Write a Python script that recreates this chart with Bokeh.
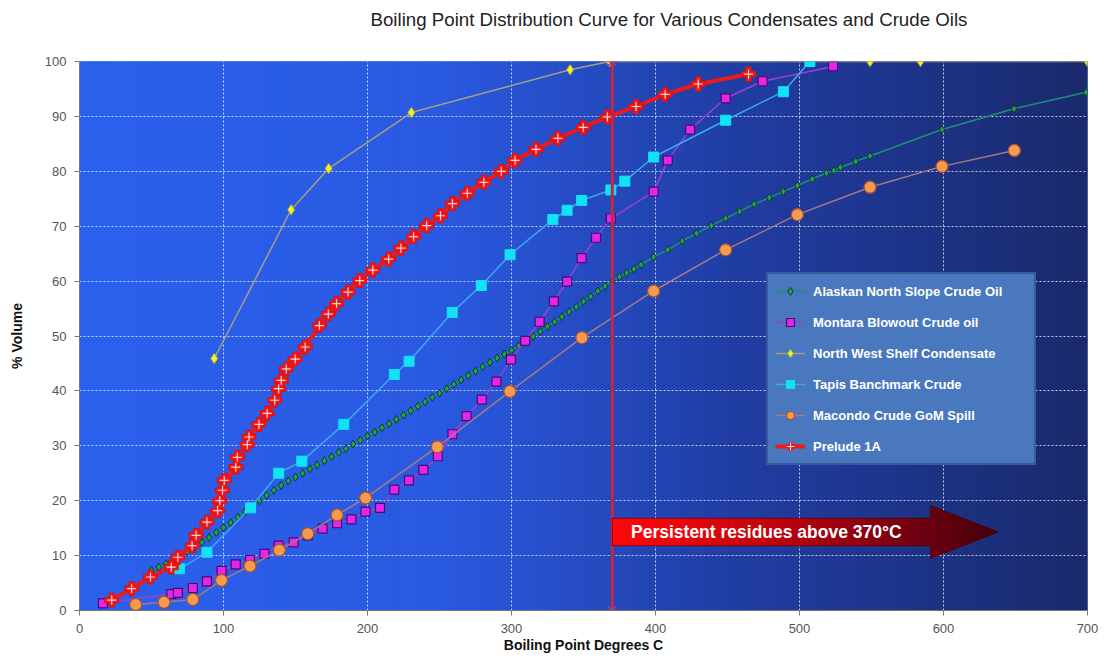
import numpy as np
from bokeh.plotting import figure
from bokeh.models import Range1d, FixedTicker, Legend, LegendItem, Label, Title
from bokeh.embed import file_html
from bokeh.resources import INLINE

TITLE = "Boiling Point Distribution Curve for Various Condensates and Crude Oils"
X_LABEL = "Boiling Point Degrees C"
Y_LABEL = "% Volume"
X_TICKS = [0, 100, 200, 300, 400, 500, 600, 700]
Y_TICKS = [0, 10, 20, 30, 40, 50, 60, 70, 80, 90, 100]

# Alaskan North Slope Crude Oil
ans_x = [50, 55, 60, 65, 70, 75, 80, 85, 90, 95, 100, 105, 110, 115, 120, 125, 130, 135, 140, 145,
         150, 155, 160, 165, 170, 175, 180, 185, 190, 195, 200, 205, 210, 215, 220, 225, 230, 235, 240, 245,
         250, 255, 260, 265, 270, 275, 280, 285, 290, 295, 300, 305, 310, 315, 320, 325, 330, 335, 340, 345,
         350, 355, 360, 365, 370, 375, 380, 385, 390,
         398.7, 408.5, 418.6, 428.5, 438.8, 448.7, 458.4, 468.5, 479, 488.8, 498.5, 508.8, 518.7, 523.8,
         528.4, 539.1, 549, 599, 649, 699]
ans_y = [7.3, 7.9, 8.5, 9.2, 10.0, 10.7, 11.5, 12.4, 13.3, 14.2, 15.1, 16.0, 17.0, 18.0, 19.0, 20.0, 21.0, 21.9, 22.8, 23.6,
         24.3, 25.0, 25.8, 26.5, 27.3, 28.0, 28.8, 29.5, 30.3, 31.0, 31.8, 32.5, 33.3, 34.0, 34.8, 35.6, 36.4, 37.2, 38.0, 38.8,
         39.6, 40.4, 41.2, 42.0, 42.8, 43.6, 44.4, 45.2, 46.0, 46.7, 47.4, 48.2, 49.0, 49.9, 50.8, 51.7, 52.6, 53.5, 54.4, 55.3,
         56.3, 57.2, 58.2, 59.1, 60.0, 60.8, 61.5, 62.2, 63.0,
         64.4, 65.7, 67.3, 68.7, 70.1, 71.4, 72.7, 74.0, 75.2, 76.3, 77.4, 78.6, 79.7, 80.1,
         80.7, 81.8, 82.8, 87.6, 91.4, 94.4]

# Montara Blowout Crude oil
mon_x = [16.3, 63.8, 68.3, 78.7, 88.5, 98.7, 108.5, 118.4, 128.4, 138.3, 148.7, 158.5, 168.8, 178.9, 188.8,
         198.6, 208.7, 218.6, 228.8, 238.8, 248.8, 259, 268.8, 279.4, 289.5, 299.6, 309.5, 319.5, 329.4,
         338.6, 348.7, 358.7, 369, 398.7, 408.5, 424, 448.7, 474.4, 523.3]
mon_y = [1.3, 3.0, 3.2, 4.1, 5.3, 7.2, 8.4, 9.2, 10.3, 11.8, 12.4, 13.7, 14.9, 15.9, 16.6,
         18.0, 18.7, 22.0, 23.7, 25.6, 28.1, 32.1, 35.4, 38.4, 41.7, 45.7, 49.1, 52.6, 56.3,
         59.9, 64.2, 67.9, 71.4, 76.3, 82.0, 87.6, 93.3, 96.4, 99.1]

# North West Shelf Condensate
nws_x = [93.6, 147, 173, 230.5, 340.7, 368, 549, 584, 700]
nws_y = [45.9, 73.0, 80.5, 90.7, 98.5, 100, 100, 100, 100]

# Tapis Banchmark Crude
tap_x = [69.5, 88.5, 118.8, 138.3, 154.4, 183.5, 218.6, 228.9, 258.8, 279, 299, 328.7, 338.6, 348.7,
         369, 378.7, 398.7, 448.7, 488.8, 507.2]
tap_y = [7.6, 10.6, 18.7, 25.0, 27.2, 33.9, 43.0, 45.4, 54.3, 59.2, 64.8, 71.2, 72.9, 74.7,
         76.6, 78.2, 82.6, 89.3, 94.5, 100]

# Macondo Crude GoM Spill
mac_x = [39, 58.7, 78.7, 98.6, 118.4, 138.8, 158.5, 178.9, 198.7, 248.5, 298.9, 348.9, 398.7, 448.7,
         498.5, 549, 599, 649.2]
mac_y = [1.1, 1.5, 2.0, 5.5, 8.1, 11.0, 14.0, 17.4, 20.5, 29.8, 39.9, 49.7, 58.2, 65.7,
         72.1, 77.1, 80.9, 83.8]

# Prelude 1A
pre_x = [22.4, 36.2, 49.3, 63.7, 68.3, 78.2, 81, 88.5, 95.9, 97.4, 99.3, 100.5, 108.5, 109.6, 116.5,
         117.7, 124.6, 130.3, 135.6, 138.3, 140.1, 143.6, 149.8, 156.7, 166.6, 172.8, 178.5, 186.5,
         194.6, 203.7, 214.7, 223.2, 232, 241.1, 250.7, 259, 269.3, 280.8, 292.9, 302.5, 317, 332.2,
         349.8, 366.6, 386.5, 406.7, 429.7, 464.6]
pre_y = [1.9, 4.0, 6.1, 7.9, 9.7, 11.8, 13.7, 16.1, 18.2, 20.0, 21.9, 23.7, 26.1, 27.9, 30.2,
         31.6, 33.9, 35.9, 38.3, 40.4, 41.9, 44.0, 45.8, 48.0, 51.9, 54.0, 55.9, 58.0,
         60.1, 62.0, 64.0, 66.0, 68.1, 70.1, 71.9, 74.1, 76.0, 78.0, 80.0, 82.0, 84.0, 86.0,
         88.0, 89.9, 91.8, 94.0, 95.9, 97.7]

CUTOFF = 370
ARROW_TEXT = "Persistent  residues above 370°C"

FONT = "Liberation Sans"

p = figure(width=1099, height=656, x_range=Range1d(0, 700), y_range=Range1d(0, 100),
           output_backend="svg", toolbar_location=None,
           min_border_left=79, min_border_right=12, min_border_top=61, min_border_bottom=46)
p.background_fill_color = "#2c5fe6"
p.border_fill_color = "white"
p.outline_line_color = None
p.title.visible = False

# spacer title (closest to frame), then the real title further out
p.add_layout(Title(text=" ", text_font_size="20px", standoff=6), "above")
p.add_layout(Title(text=TITLE, align="left", offset=291, standoff=4, text_font=FONT,
                   text_font_size="18.7px", text_font_style="normal", text_color="#222222"), "above")

# gradient background (strips)
edges = np.linspace(0, 700, 141)
mids = (edges[:-1] + edges[1:]) / 2
stops = [0, 250, 450, 700]
rr = np.interp(mids, stops, [44, 42, 33, 27])
gg = np.interp(mids, stops, [97, 90, 62, 42])
bb = np.interp(mids, stops, [238, 225, 165, 108])
cols = ["#%02x%02x%02x" % (int(a), int(b), int(c)) for a, b, c in zip(rr, gg, bb)]
p.quad(left=edges[:-1], right=edges[1:], bottom=0, top=100, fill_color=cols, line_color=cols,
       line_width=1, level="image")

# axes
for ax in (p.xaxis, p.yaxis):
    ax.major_label_text_font = FONT
    ax.major_label_text_font_size = "13px"
    ax.major_label_text_color = "#555555"
    ax.axis_label_text_font = FONT
    ax.axis_label_text_font_size = "14px"
    ax.axis_label_text_font_style = "bold"
    ax.axis_label_text_color = "#111111"
    ax.axis_line_color = "#777777"
    ax.major_tick_line_color = "#777777"
    ax.major_tick_out = 5
    ax.major_tick_in = 0
    ax.minor_tick_line_color = None
p.xaxis.ticker = FixedTicker(ticks=X_TICKS)
p.yaxis.ticker = FixedTicker(ticks=Y_TICKS)
p.xaxis.axis_label = X_LABEL
p.yaxis.axis_label = Y_LABEL
p.xaxis.major_label_standoff = 8
p.yaxis.major_label_standoff = 8
p.xaxis.axis_label_standoff = 1
p.yaxis.axis_label_standoff = 17

p.grid.grid_line_color = "white"
p.grid.grid_line_dash = "2 2"
p.grid.grid_line_alpha = 0.75
p.grid.grid_line_width = 1

# series
r_ans_l = p.line(ans_x, ans_y, line_color="#1f8f78", line_width=1.5)
r_ans_m = p.scatter(ans_x, ans_y, marker="diamond", size=8, fill_color="#23a050", line_color="#0b3a22", line_width=1)

r_mon_l = p.line(mon_x, mon_y, line_color="#9b3fd6", line_width=1.5)
r_mon_m = p.scatter(mon_x, mon_y, marker="square", size=9, fill_color="#e326e8", line_color="#4a0a70", line_width=1.2)

r_nws_l = p.line(nws_x, nws_y, line_color="#a49f86", line_width=1.5)
r_nws_m = p.scatter(nws_x, nws_y, marker="diamond", size=10, fill_color="#f2f030", line_color="#c8c020", line_width=1)

r_tap_l = p.line(tap_x, tap_y, line_color="#3aa8f5", line_width=1.5)
r_tap_m = p.scatter(tap_x, tap_y, marker="square", size=10, fill_color="#12e2f5", line_color="#12e2f5", line_width=1)

r_mac_l = p.line(mac_x, mac_y, line_color="#a47a88", line_width=1.5)
r_mac_m = p.scatter(mac_x, mac_y, marker="circle", size=12, fill_color="#f59a52", line_color="#a8542a", line_width=1.2)

r_pre_l = p.line(pre_x, pre_y, line_color="#f01818", line_width=4)
r_pre_m = p.scatter(pre_x, pre_y, marker="plus", size=14, fill_color="#f01818", line_color="#e01010", line_width=1)
r_pre_c = p.scatter(pre_x, pre_y, marker="cross", size=9, line_color="#ffd0d0", line_width=1.2)

# cutoff line
p.segment(x0=[CUTOFF], y0=[0], x1=[CUTOFF], y1=[100], line_color="#c02845", line_width=3)
p.scatter([CUTOFF, CUTOFF], [0, 100], marker="asterisk", size=12, line_color="#a03a80", line_width=1.5)

# arrow annotation
AX0, AXB, AXT = 370, 591, 638
BODY_LO, BODY_HI = 11.8, 16.8
HEAD_LO, HEAD_HI = 9.5, 19.1
YC = (HEAD_LO + HEAD_HI) / 2
be = np.linspace(AX0, AXB, 61)
tcol = np.linspace(0, 1, 60)
bcols = ["#%02x%02x%02x" % (int(255 - 150 * t ** 1.3), int(8 - 8 * t), int(10 + 6 * t)) for t in tcol]
p.quad(left=be[:-1], right=be[1:], bottom=BODY_LO, top=BODY_HI, fill_color=bcols, line_color=bcols, line_width=0.5)
he = np.linspace(AXB, AXT, 13)
hx, hy, hcols = [], [], []
half = (HEAD_HI - HEAD_LO) / 2
for i in range(12):
    xa, xb = he[i], he[i + 1]
    ha = half * (AXT - xa) / (AXT - AXB)
    hb = half * (AXT - xb) / (AXT - AXB)
    hx.append([xa, xb, xb, xa])
    hy.append([YC - ha, YC - hb, YC + hb, YC + ha])
    t = i / 11
    hcols.append("#%02x%02x%02x" % (int(105 - 35 * t), 0, int(14 - 4 * t)))
p.patches(hx, hy, fill_color=hcols, line_color=hcols, line_width=0.5)
p.patch([AX0, AXB, AXB, AXT, AXB, AXB, AX0], [BODY_LO, BODY_LO, HEAD_LO, YC, HEAD_HI, BODY_HI, BODY_HI],
        fill_alpha=0, line_color="#500000", line_alpha=0.6, line_width=1)
p.add_layout(Label(x=383, y=14.3, text=ARROW_TEXT, text_color="white", text_font=FONT,
                   text_font_size="17.5px", text_font_style="bold", text_baseline="middle"))

legend = Legend(items=[
    LegendItem(label="Alaskan North Slope Crude Oil", renderers=[r_ans_l, r_ans_m]),
    LegendItem(label="Montara Blowout Crude oil", renderers=[r_mon_l, r_mon_m]),
    LegendItem(label="North West Shelf Condensate", renderers=[r_nws_l, r_nws_m]),
    LegendItem(label="Tapis Banchmark Crude", renderers=[r_tap_l, r_tap_m]),
    LegendItem(label="Macondo Crude GoM Spill", renderers=[r_mac_l, r_mac_m]),
    LegendItem(label="Prelude 1A", renderers=[r_pre_l, r_pre_m, r_pre_c]),
], location=(687, 145), background_fill_color="#4a78be", background_fill_alpha=1,
    border_line_color="#22407e", border_line_width=2,
    label_text_color="white", label_text_font=FONT, label_text_font_style="bold",
    label_text_font_size="13px", glyph_width=30, glyph_height=20, label_height=20,
    label_width=214, spacing=11, padding=7, margin=0, label_standoff=8)
p.add_layout(legend)

open("out.html", "w").write(file_html(p, INLINE))
